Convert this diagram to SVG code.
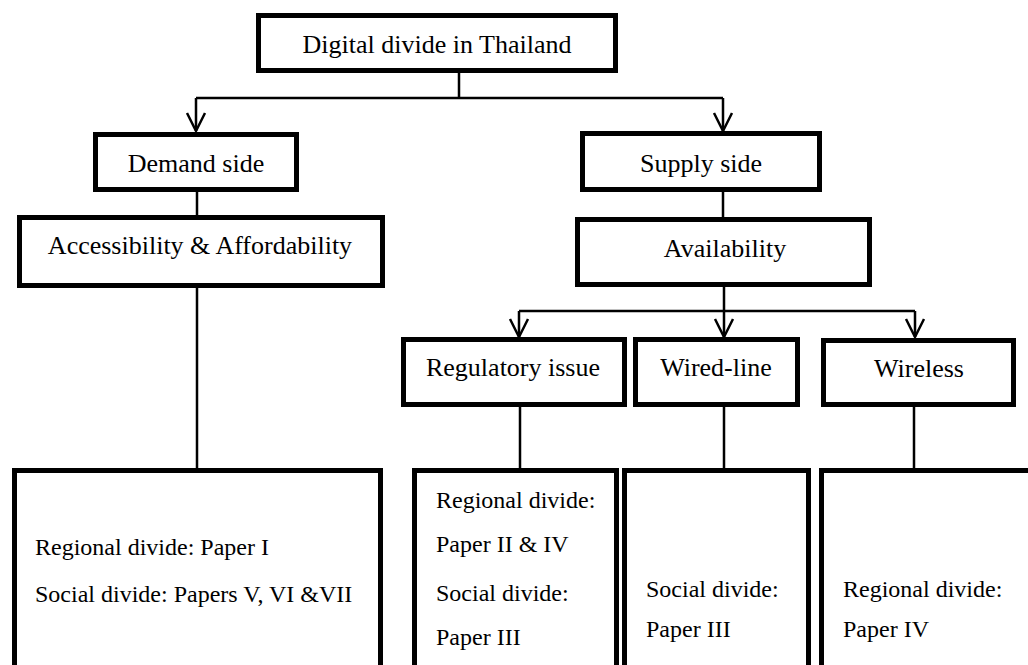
<svg xmlns="http://www.w3.org/2000/svg" width="1028" height="665" viewBox="0 0 1028 665">
<defs>
<style>
.box{fill:#fff;stroke:#000;stroke-width:5}
.lbl{font-family:"Liberation Serif","Times New Roman",serif;font-size:26px;fill:#000;text-anchor:middle}
.txt{font-family:"Liberation Serif","Times New Roman",serif;font-size:24px;fill:#000}
.ln{fill:none;stroke:#000;stroke-width:2.5}
</style>
</defs>
<rect width="1028" height="665" fill="#fff"/>
<g id="connectors">
<path class="ln" d="M459,73 V98 M196,98 H723 M196,98 V131 M723,98 V131"/>
<path class="ln" d="M187,113 L196,131 L205,113 M714,113 L723,131 L732,113"/>
<path class="ln" d="M197,192 V215 M197,288 V468"/>
<path class="ln" d="M723,192 V217 M724,287 V311 M519,311 H915 M519,311 V337 M724,311 V337 M915,311 V337"/>
<path class="ln" d="M510,319 L519,337 L528,319 M715,319 L724,337 L733,319 M906,319 L915,337 L924,319"/>
<path class="ln" d="M520,407 V468 M724,407 V468 M914,407 V468"/>
</g>
<g id="n-top"><rect class="box" x="258.5" y="15.5" width="357" height="55"/><text class="lbl" x="437" y="53">Digital divide in Thailand</text></g>
<g id="n-demand"><rect class="box" x="95.5" y="134.5" width="201" height="55"/><text class="lbl" x="196" y="172">Demand side</text></g>
<g id="n-access"><rect class="box" x="19.5" y="217.5" width="363" height="68"/><text class="lbl" x="200" y="254">Accessibility &amp; Affordability</text></g>
<g id="n-supply"><rect class="box" x="582.5" y="133.5" width="237" height="56"/><text class="lbl" x="701" y="172">Supply side</text></g>
<g id="n-avail"><rect class="box" x="577.5" y="219.5" width="292" height="65"/><text class="lbl" x="725" y="257">Availability</text></g>
<g id="n-reg"><rect class="box" x="403.5" y="339.5" width="221" height="65"/><text class="lbl" x="513" y="376">Regulatory issue</text></g>
<g id="n-wired"><rect class="box" x="635.5" y="339.5" width="162" height="65"/><text class="lbl" x="716" y="376">Wired-line</text></g>
<g id="n-wireless"><rect class="box" x="823.5" y="340.5" width="190" height="64"/><text class="lbl" x="919" y="377">Wireless</text></g>
<g id="n-b1"><rect class="box" x="14.5" y="470.5" width="366" height="220"/><text class="txt" x="35" y="555">Regional divide: Paper I</text><text class="txt" x="35" y="602">Social divide: Papers V, VI &amp;VII</text></g>
<g id="n-b2"><rect class="box" x="414.5" y="470.5" width="202" height="220"/><text class="txt" x="436" y="508">Regional divide:</text><text class="txt" x="436" y="552">Paper II &amp; IV</text><text class="txt" x="436" y="601">Social divide:</text><text class="txt" x="436" y="645">Paper III</text></g>
<g id="n-b3"><rect class="box" x="624.5" y="470.5" width="184" height="220"/><text class="txt" x="646" y="597">Social divide:</text><text class="txt" x="646" y="637">Paper III</text></g>
<g id="n-b4"><rect class="box" x="821.5" y="470.5" width="220" height="220"/><text class="txt" x="843" y="597">Regional divide:</text><text class="txt" x="843" y="637">Paper IV</text></g>
</svg>
